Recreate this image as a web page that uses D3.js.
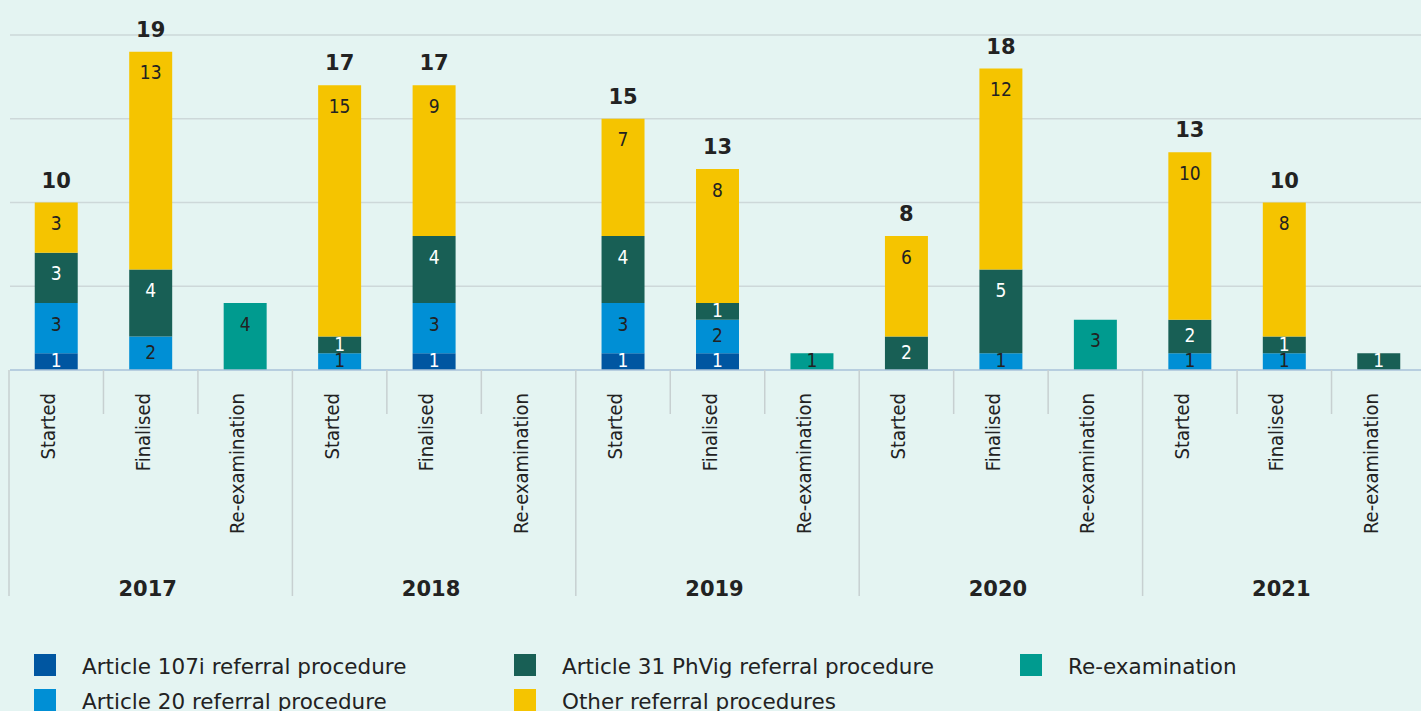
<!DOCTYPE html>
<html>
<head>
<meta charset="utf-8">
<script src="https://cdn.jsdelivr.net/npm/d3@7"></script>
<style>
  html, body { margin: 0; padding: 0; background: #e4f4f2; }
  svg { display: block; }
  .cond { font-family: "DejaVu Sans Condensed", "DejaVu Sans", sans-serif; font-stretch: condensed; }
  .reg { font-family: "DejaVu Sans", Verdana, sans-serif; }
</style>
</head>
<body>
<svg id="chart" width="1421" height="711"></svg>
<script>
// Referral procedures by year and stage
const years = ["2017", "2018", "2019", "2020", "2021"];
const stages = ["Started", "Finalised", "Re-examination"];

// One value per year × stage, in the order 2017 Started, Finalised, Re-examination, 2018 ...
const art107i = [1, 0, 0,  0, 1, 0,  1, 1, 0,  0, 0, 0,  0, 0, 0];
const art20   = [3, 2, 0,  1, 3, 0,  3, 2, 0,  0, 1, 0,  1, 1, 0];
const art31   = [3, 4, 0,  1, 4, 0,  4, 1, 0,  2, 5, 0,  2, 1, 1];
const other   = [3, 13, 0, 15, 9, 0, 7, 8, 0,  6, 12, 0, 10, 8, 0];
const reexam  = [0, 0, 4,  0, 0, 0,  0, 0, 1,  0, 0, 3,  0, 0, 0];
// Totals printed above the stacks
const totals  = [10, 19, null, 17, 17, null, 15, 13, null, 8, 18, null, 13, 10, null];

const yTicks = [5, 10, 15, 20];

const seriesDefs = [
  { key: "art107i", name: "Article 107i referral procedure", values: art107i, color: "#0056a1", text: "#ffffff" },
  { key: "art20",   name: "Article 20 referral procedure",   values: art20,   color: "#008fd5", text: "#222222" },
  { key: "art31",   name: "Article 31 PhVig referral procedure", values: art31, color: "#185f55", text: "#ffffff" },
  { key: "other",   name: "Other referral procedures",       values: other,   color: "#f5c400", text: "#222222" },
  { key: "reexam",  name: "Re-examination",                  values: reexam,  color: "#009b8f", text: "#222222" }
];

const categories = [];
years.forEach(y => stages.forEach(s => categories.push({ id: y + "|" + s, year: y, stage: s })));

const rows = categories.map((c, i) => {
  const r = { id: c.id };
  seriesDefs.forEach(s => { r[s.key] = s.values[i]; });
  return r;
});

const svg = d3.select("#chart");
const W = 1421, H = 711;
const ink = "#222222";

svg.append("rect").attr("width", W).attr("height", H).attr("fill", "#e4f4f2");

const x = d3.scaleBand()
  .domain(categories.map(c => c.id))
  .range([9, 1426])
  .paddingInner(0.545)
  .paddingOuter(0.2725);

const y = d3.scaleLinear().domain([0, 20]).range([370, 35]);

const step = x.step();
const center = id => x(id) + x.bandwidth() / 2;

// gridlines
svg.append("g").selectAll("line").data(yTicks).join("line")
  .attr("x1", 10).attr("x2", W)
  .attr("y1", d => y(d)).attr("y2", d => y(d))
  .attr("stroke", "#cdd8d9").attr("stroke-width", 1.5);

// stacked bars
const stack = d3.stack().keys(seriesDefs.map(s => s.key));
const layers = stack(rows);

const gBars = svg.append("g");
layers.forEach((layer, li) => {
  const s = seriesDefs[li];
  gBars.append("g").selectAll("rect")
    .data(layer.filter(d => d[1] - d[0] > 0))
    .join("rect")
    .attr("x", d => x(d.data.id))
    .attr("width", x.bandwidth())
    .attr("y", d => y(d[1]))
    .attr("height", d => y(d[0]) - y(d[1]))
    .attr("fill", s.color);
});

// segment value labels
const gVals = svg.append("g").attr("class", "cond").attr("font-size", 19).attr("text-anchor", "middle");
layers.forEach((layer, li) => {
  const s = seriesDefs[li];
  gVals.append("g").selectAll("text")
    .data(layer.filter(d => d[1] - d[0] > 0))
    .join("text")
    .attr("x", d => center(d.data.id))
    .attr("y", d => {
      const top = y(d[1]);
      const h = y(d[0]) - top;
      return top + Math.min(21, h / 2 - 1);
    })
    .attr("dy", "0.35em")
    .attr("fill", s.text)
    .text(d => d[1] - d[0]);
});

// totals above stacks
const gTot = svg.append("g").attr("class", "reg").attr("font-size", 21).attr("font-weight", "bold")
  .attr("text-anchor", "middle").attr("fill", ink);
gTot.selectAll("text")
  .data(rows.map((r, i) => ({ id: r.id, sum: d3.sum(seriesDefs, s => r[s.key]), label: totals[i] }))
    .filter(d => d.label !== null))
  .join("text")
  .attr("x", d => center(d.id))
  .attr("y", d => y(d.sum) - 15)
  .text(d => d.label);

// category axis
const axisY = y(0);
svg.append("line")
  .attr("x1", 10).attr("x2", W).attr("y1", axisY).attr("y2", axisY)
  .attr("stroke", "#a9c2d8").attr("stroke-width", 1.5);

const gSep = svg.append("g").attr("stroke", "#c7d0d1").attr("stroke-width", 1.5);
categories.forEach((c, i) => {
  const left = center(c.id) - step / 2;
  const isGroupStart = i % stages.length === 0;
  gSep.append("line")
    .attr("x1", left).attr("x2", left)
    .attr("y1", axisY).attr("y2", isGroupStart ? 596 : 414);
});

const gCat = svg.append("g").attr("class", "cond").attr("font-size", 20).attr("fill", ink);
gCat.selectAll("text").data(categories).join("text")
  .attr("transform", d => `translate(${center(d.id)},393) rotate(-90)`)
  .attr("text-anchor", "end")
  .attr("dy", "-0.05em")
  .text(d => d.stage);

const gYear = svg.append("g").attr("class", "reg").attr("font-size", 21).attr("font-weight", "bold")
  .attr("fill", ink).attr("text-anchor", "middle");
gYear.selectAll("text").data(years).join("text")
  .attr("x", yr => center(yr + "|" + stages[1]) - 3)
  .attr("y", 596)
  .text(yr => yr);

// legend, filled column by column
const legendCols = [34, 514, 1020];
const legendRows = [654, 689];
const gLeg = svg.append("g").attr("class", "reg").attr("font-size", 21.5).attr("fill", ink);
seriesDefs.forEach((s, i) => {
  const col = Math.floor(i / 2), row = i % 2;
  const lx = legendCols[col], ly = legendRows[row];
  gLeg.append("rect").attr("x", lx).attr("y", ly).attr("width", 22).attr("height", 22).attr("fill", s.color);
  gLeg.append("text").attr("x", lx + 48).attr("y", ly + 20).text(s.name);
});
</script>
</body>
</html>
